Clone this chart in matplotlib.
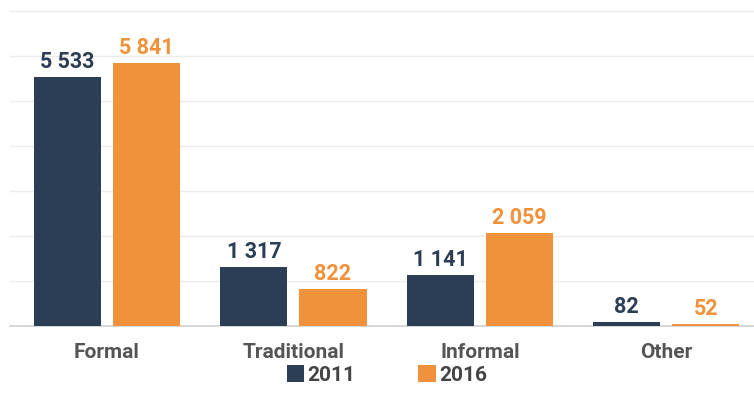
import matplotlib.pyplot as plt
from matplotlib.patches import Patch
import numpy as np

categories = ["Formal", "Traditional", "Informal", "Other"]
years = ["2011", "2016"]
values_2011 = [5533, 1317, 1141, 82]
values_2016 = [5841, 822, 2059, 52]
value_labels_2011 = ["5 533", "1 317", "1 141", "82"]
value_labels_2016 = ["5 841", "822", "2 059", "52"]

navy = "#2c3e55"
orange = "#f0923b"

plt.rcParams['font.family'] = ['Roboto', 'DejaVu Sans']

fig = plt.figure(figsize=(7.54, 4.12), dpi=100)
ax = fig.add_axes([10 / 754, 86 / 412, 744 / 754, 315 / 412])

x = np.arange(len(categories))
width = 0.36
offset = 0.212

bars_a = ax.bar(x - offset, values_2011, width, color=navy, zorder=3)
bars_b = ax.bar(x + offset, values_2016, width, color=orange, zorder=3)

for bars, labels, color in [(bars_a, value_labels_2011, navy),
                            (bars_b, value_labels_2016, orange)]:
    for bar, lab in zip(bars, labels):
        ax.annotate(lab, (bar.get_x() + bar.get_width() / 2, bar.get_height()),
                    xytext=(0, 6.5), textcoords="offset points",
                    ha="center", va="baseline", fontsize=15.5,
                    fontweight="bold", color=color)

ax.set_xlim(-0.52, 3.47)
ax.set_ylim(0, 7000)
ax.set_yticks(np.arange(1000, 7001, 1000))
ax.yaxis.grid(True, color="#ececec", linewidth=1, zorder=0)
for gl in ax.yaxis.get_gridlines():
    gl.set_clip_on(False)
ax.tick_params(axis="y", left=False, labelleft=False)

ax.set_xticks(x)
ax.set_xticklabels(categories, fontsize=15, fontweight="bold", color="#555555")
ax.tick_params(axis="x", length=0, pad=12)

for side in ["top", "right", "left"]:
    ax.spines[side].set_visible(False)
ax.spines["bottom"].set_color("#cfcfcf")
ax.spines["bottom"].set_linewidth(1.2)

handles = [Patch(facecolor=navy), Patch(facecolor=orange)]
leg = fig.legend(handles, years, loc="center", bbox_to_anchor=(0.513, 0.09),
                 ncol=2, frameon=False, handlelength=0.85, handleheight=0.85,
                 handletextpad=0.15, columnspacing=3.0,
                 prop={"size": 15, "weight": "bold"})
for t in leg.get_texts():
    t.set_color("#444444")

fig.savefig("out.png", dpi=100, facecolor="white")
